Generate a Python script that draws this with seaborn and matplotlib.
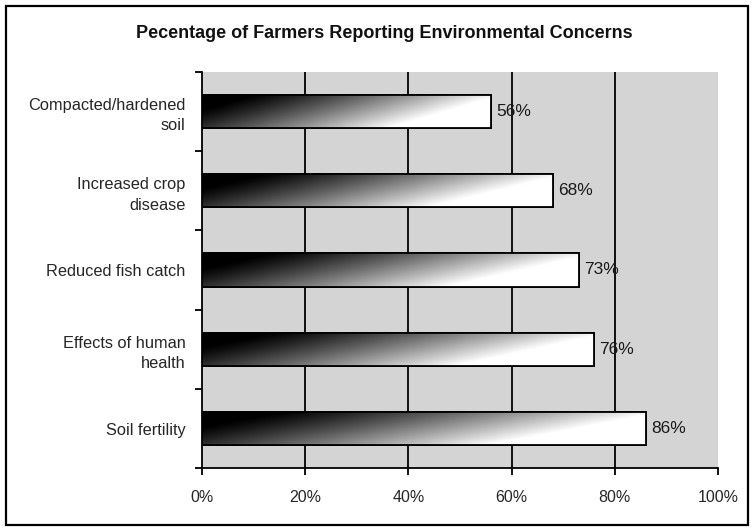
import numpy as np
import pandas as pd
import matplotlib
matplotlib.use("Agg")
import matplotlib.pyplot as plt
import seaborn as sns
from matplotlib.patches import Rectangle

# Survey results: share of farmers reporting each concern
concerns = [
    "Compacted/hardened\nsoil",
    "Increased crop\ndisease",
    "Reduced fish catch",
    "Effects of human\nhealth",
    "Soil fertility",
]
percent = [56, 68, 73, 76, 86]
xticks = [0, 20, 40, 60, 80, 100]
xtick_labels = ["0%", "20%", "40%", "60%", "80%", "100%"]
title = "Pecentage of Farmers Reporting Environmental Concerns"

df = pd.DataFrame({"concern": concerns, "percent": percent})

sns.set_theme(style="white")
plt.rcParams["font.family"] = ["Liberation Sans", "DejaVu Sans"]

fig = plt.figure(figsize=(7.54, 5.32), dpi=100)
fig.patch.set_facecolor("white")
ax = fig.add_axes([0.268, 0.12, 0.684, 0.745])

sns.barplot(data=df, x="percent", y="concern", orient="h", ax=ax,
            width=0.42, color="white", edgecolor="black", linewidth=1.3,
            zorder=3)

ax.set_xlim(0, 100)
ax.set_ylim(len(concerns) - 0.5, -0.5)
ax.set_facecolor("#d4d4d4")

# vertical gridlines
for t in xticks[1:-1]:
    ax.axvline(t, color="black", lw=1.3, zorder=1)

# dark-to-light gradient fill inside each bar
ny, nx = 40, 200
xf = np.linspace(0, 1, nx)[None, :]
yf = np.linspace(0, 1, ny)[:, None]
shade = np.clip(1.15 * xf + 0.45 * yf - 0.2, 0, 1) ** 1.2
for patch in ax.patches:
    x0, y0 = patch.get_x(), patch.get_y()
    w, h = patch.get_width(), patch.get_height()
    im = ax.imshow(shade, cmap="gray", vmin=0, vmax=1, aspect="auto",
                   extent=[x0, x0 + w, y0 + h, y0], origin="upper",
                   zorder=3.5, interpolation="bilinear")
    im.set_clip_path(patch)
    ax.add_patch(Rectangle((x0, y0), w, h, fill=False, edgecolor="black",
                           lw=1.3, zorder=4))

# value labels
for i, v in enumerate(percent):
    ax.text(v + 1, i, f"{v}%", va="center", ha="left", fontsize=12.5,
            color="#1a1a1a", zorder=5)

ax.set_xticks(xticks)
ax.set_xticklabels(xtick_labels, fontsize=11.5)
ax.set_yticks(np.arange(len(concerns)))
ax.set_yticklabels(concerns, fontsize=11.8, linespacing=1.45)
ax.tick_params(axis="y", length=0, pad=12)
ax.tick_params(axis="x", length=5, width=1.3, direction="out",
               color="black", pad=11, bottom=True)
# category boundary ticks on the value axis
ax.set_yticks(np.arange(len(concerns) + 1) - 0.5, minor=True)
ax.tick_params(axis="y", which="minor", length=5, width=1.3,
               direction="out", color="black", left=True)
ax.set_xlabel("")
ax.set_ylabel("")

for side in ["top", "right"]:
    ax.spines[side].set_visible(False)
for side in ["left", "bottom"]:
    ax.spines[side].set_color("black")
    ax.spines[side].set_linewidth(1.3)

fig.text(0.51, 0.937, title, ha="center", va="center", fontsize=13,
         fontweight="bold", color="#111111")

# outer chart frame
fig.add_artist(Rectangle((0.008, 0.013), 0.984, 0.975, transform=fig.transFigure,
                         fill=False, edgecolor="black", lw=1.6))

fig.savefig("out.png", dpi=100)
